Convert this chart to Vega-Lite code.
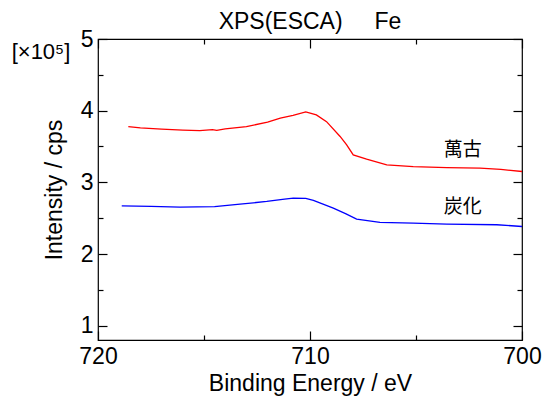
{
  "$schema": "https://vega.github.io/schema/vega-lite/v6.json",
  "width": 424,
  "height": 301,
  "autosize": "none",
  "padding": {"left": 98, "top": 39, "right": 24, "bottom": 66},
  "background": "white",
  "title": {"text": "XPS(ESCA)\u00a0\u00a0\u00a0\u00a0\u00a0Fe", "font": "Liberation Sans", "fontSize": 23, "fontWeight": "normal", "color": "black", "anchor": "middle", "offset": -6},
  "config": {
    "view": {"stroke": "black", "strokeWidth": 1.2},
    "font": "Liberation Sans",
    "axis": {"domain": false, "tickColor": "black", "labelColor": "black", "titleColor": "black", "grid": false, "labelFont": "Liberation Sans", "titleFont": "Liberation Sans", "titleFontWeight": "normal", "tickWidth": 1.2}
  },
  "resolve": {"axis": {"x": "independent", "y": "independent"}},
  "layer": [
    {
      "data": {"values": [
        {"s": "萬古", "x": 718.57, "y": 3.778},
        {"s": "萬古", "x": 718.0, "y": 3.760},
        {"s": "萬古", "x": 717.0, "y": 3.742},
        {"s": "萬古", "x": 716.0, "y": 3.728},
        {"s": "萬古", "x": 715.2, "y": 3.722},
        {"s": "萬古", "x": 714.6, "y": 3.735},
        {"s": "萬古", "x": 714.4, "y": 3.726},
        {"s": "萬古", "x": 714.0, "y": 3.745},
        {"s": "萬古", "x": 713.0, "y": 3.778},
        {"s": "萬古", "x": 712.0, "y": 3.840},
        {"s": "萬古", "x": 711.4, "y": 3.895},
        {"s": "萬古", "x": 710.8, "y": 3.935},
        {"s": "萬古", "x": 710.2, "y": 3.983},
        {"s": "萬古", "x": 709.7, "y": 3.940},
        {"s": "萬古", "x": 709.22, "y": 3.847},
        {"s": "萬古", "x": 708.58, "y": 3.640},
        {"s": "萬古", "x": 708.27, "y": 3.523},
        {"s": "萬古", "x": 707.96, "y": 3.383},
        {"s": "萬古", "x": 707.33, "y": 3.323},
        {"s": "萬古", "x": 706.38, "y": 3.244},
        {"s": "萬古", "x": 705.13, "y": 3.220},
        {"s": "萬古", "x": 703.55, "y": 3.206},
        {"s": "萬古", "x": 701.98, "y": 3.198},
        {"s": "萬古", "x": 701.0, "y": 3.180},
        {"s": "萬古", "x": 700.0, "y": 3.151},
        {"s": "炭化", "x": 718.88, "y": 2.672},
        {"s": "炭化", "x": 717.5, "y": 2.665},
        {"s": "炭化", "x": 716.13, "y": 2.654},
        {"s": "炭化", "x": 714.5, "y": 2.660},
        {"s": "炭化", "x": 713.3, "y": 2.696},
        {"s": "炭化", "x": 712.04, "y": 2.733},
        {"s": "炭化", "x": 711.2, "y": 2.765},
        {"s": "炭化", "x": 710.79, "y": 2.780},
        {"s": "炭化", "x": 710.2, "y": 2.775},
        {"s": "炭化", "x": 709.84, "y": 2.747},
        {"s": "炭化", "x": 708.9, "y": 2.640},
        {"s": "炭化", "x": 708.3, "y": 2.560},
        {"s": "炭化", "x": 707.8, "y": 2.487},
        {"s": "炭化", "x": 706.7, "y": 2.440},
        {"s": "炭化", "x": 705.13, "y": 2.431},
        {"s": "炭化", "x": 703.55, "y": 2.417},
        {"s": "炭化", "x": 701.19, "y": 2.408},
        {"s": "炭化", "x": 700.0, "y": 2.384}
      ]},
      "mark": {"type": "line", "strokeWidth": 1.3},
      "encoding": {
        "x": {"field": "x", "type": "quantitative", "scale": {"domain": [720, 700], "nice": false, "zero": false},
          "axis": {"orient": "bottom", "values": [720, 710, 700], "tickSize": -9, "format": "d", "labelFontSize": 23, "labelPadding": 14, "title": "Binding Energy / eV", "titleFontSize": 23, "titlePadding": 4, "labelFlush": false}},
        "y": {"field": "y", "type": "quantitative", "scale": {"domain": [0.8, 5], "nice": false, "zero": false},
          "axis": {"orient": "left", "values": [1, 2, 3, 4, 5], "tickSize": -9, "format": "d", "labelFontSize": 23, "labelPadding": 14, "title": "Intensity / cps", "titleFontSize": 23, "titlePadding": 14}},
        "color": {"field": "s", "type": "nominal", "scale": {"domain": ["萬古", "炭化"], "range": ["#ff0000", "#0000ff"]}, "legend": null},
        "detail": {"field": "s"}
      }
    },
    {
      "data": {"values": [{"label": "萬古", "x": 702.8, "y": 3.45}]},
      "mark": {"type": "text", "font": "Noto Sans CJK JP", "fontSize": 19, "color": "black", "align": "center", "baseline": "middle"},
      "encoding": {
        "x": {"field": "x", "type": "quantitative", "axis": {"orient": "top", "values": [720, 710, 700], "tickSize": -9, "labels": false, "title": null}},
        "y": {"field": "y", "type": "quantitative", "axis": {"orient": "right", "values": [1, 2, 3, 4, 5], "tickSize": -9, "labels": false, "title": null}},
        "text": {"field": "label"}
      }
    },
    {
      "data": {"values": [{"label": "炭化", "x": 702.8, "y": 2.66}]},
      "mark": {"type": "text", "font": "Noto Sans CJK JP", "fontSize": 19, "color": "black", "align": "center", "baseline": "middle"},
      "encoding": {
        "x": {"field": "x", "type": "quantitative", "axis": {"orient": "top", "values": [715, 705], "tickSize": -5, "labels": false, "title": null}},
        "y": {"field": "y", "type": "quantitative", "axis": {"orient": "right", "values": [1.5, 2.5, 3.5, 4.5], "tickSize": -5, "labels": false, "title": null}},
        "text": {"field": "label"}
      }
    },
    {
      "data": {"values": [{"label": "[×10⁵]", "x": 720, "y": 5}]},
      "mark": {"type": "text", "font": "Liberation Sans", "fontSize": 22, "color": "black", "align": "center", "baseline": "middle", "dx": -57, "dy": 13},
      "encoding": {
        "x": {"field": "x", "type": "quantitative", "axis": {"orient": "bottom", "values": [715, 705], "tickSize": -5, "labels": false, "title": null}},
        "y": {"field": "y", "type": "quantitative", "axis": {"orient": "left", "values": [1.5, 2.5, 3.5, 4.5], "tickSize": -5, "labels": false, "title": null}},
        "text": {"field": "label"}
      }
    }
  ]
}
